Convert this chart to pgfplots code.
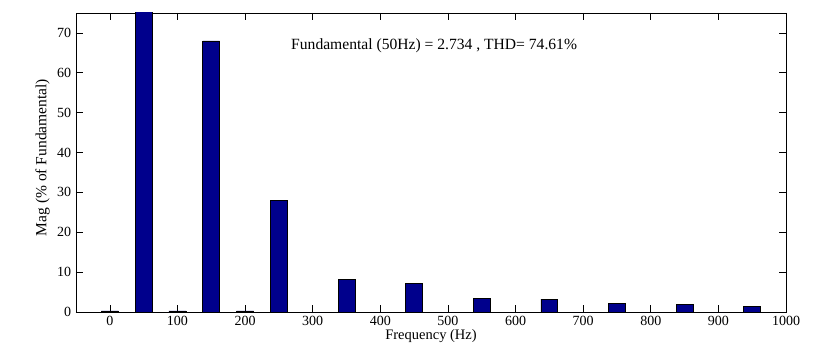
\documentclass[border=0pt]{standalone}
\usepackage{pgfplots}
\pgfplotsset{compat=1.18}
\usepackage{fontspec}
\setmainfont{Liberation Serif}
\definecolor{barblue}{RGB}{0,0,140}
\begin{document}
\fontsize{14}{16}\selectfont
\begin{tikzpicture}
\path[use as bounding box] (-76pt,-33pt) rectangle (740pt,312pt);
\begin{axis}[
  at={(0pt,0pt)}, anchor=south west,
  scale only axis, width=710pt, height=299pt,
  xmin=-50, xmax=1000, ymin=0, ymax=75,
  xtick={0,100,...,1000}, ytick={0,10,...,70},
  tick align=inside, major tick length=7pt,
  tick style={black, line width=0.6pt},
  axis line style={black, line width=0.8pt},
  every tick label/.append style={font=\fontsize{14}{16}\selectfont},
  /pgf/number format/assume math mode=true,
  /pgf/number format/1000 sep={},
  xlabel={Frequency (Hz)}, ylabel={Mag (\% of Fundamental)},
  xlabel style={yshift=5pt, font=\fontsize{14.5}{16}\selectfont},
  ylabel style={yshift=-2pt, xshift=5pt, font=\fontsize{15.5}{17}\selectfont},
  xticklabel style={yshift=1pt},
  clip=true,
]
\addplot[ybar, bar width=25, fill=barblue, draw=black, line width=0.6pt] coordinates {
  (0,0.3) (50,100) (100,0.3) (150,68) (200,0.3) (250,28) (300,0) (350,8.2) (400,0)
  (450,7.25) (500,0) (550,3.5) (600,0) (650,3.25) (700,0) (750,2.2) (800,0)
  (850,1.9) (900,0) (950,1.4)
};
\node[anchor=west, font=\fontsize{15.6}{18}\selectfont, inner sep=0pt] at (axis cs:268,66.8) {Fundamental (50Hz) = 2.734 , THD= 74.61\%};
\end{axis}
\end{tikzpicture}
\end{document}
